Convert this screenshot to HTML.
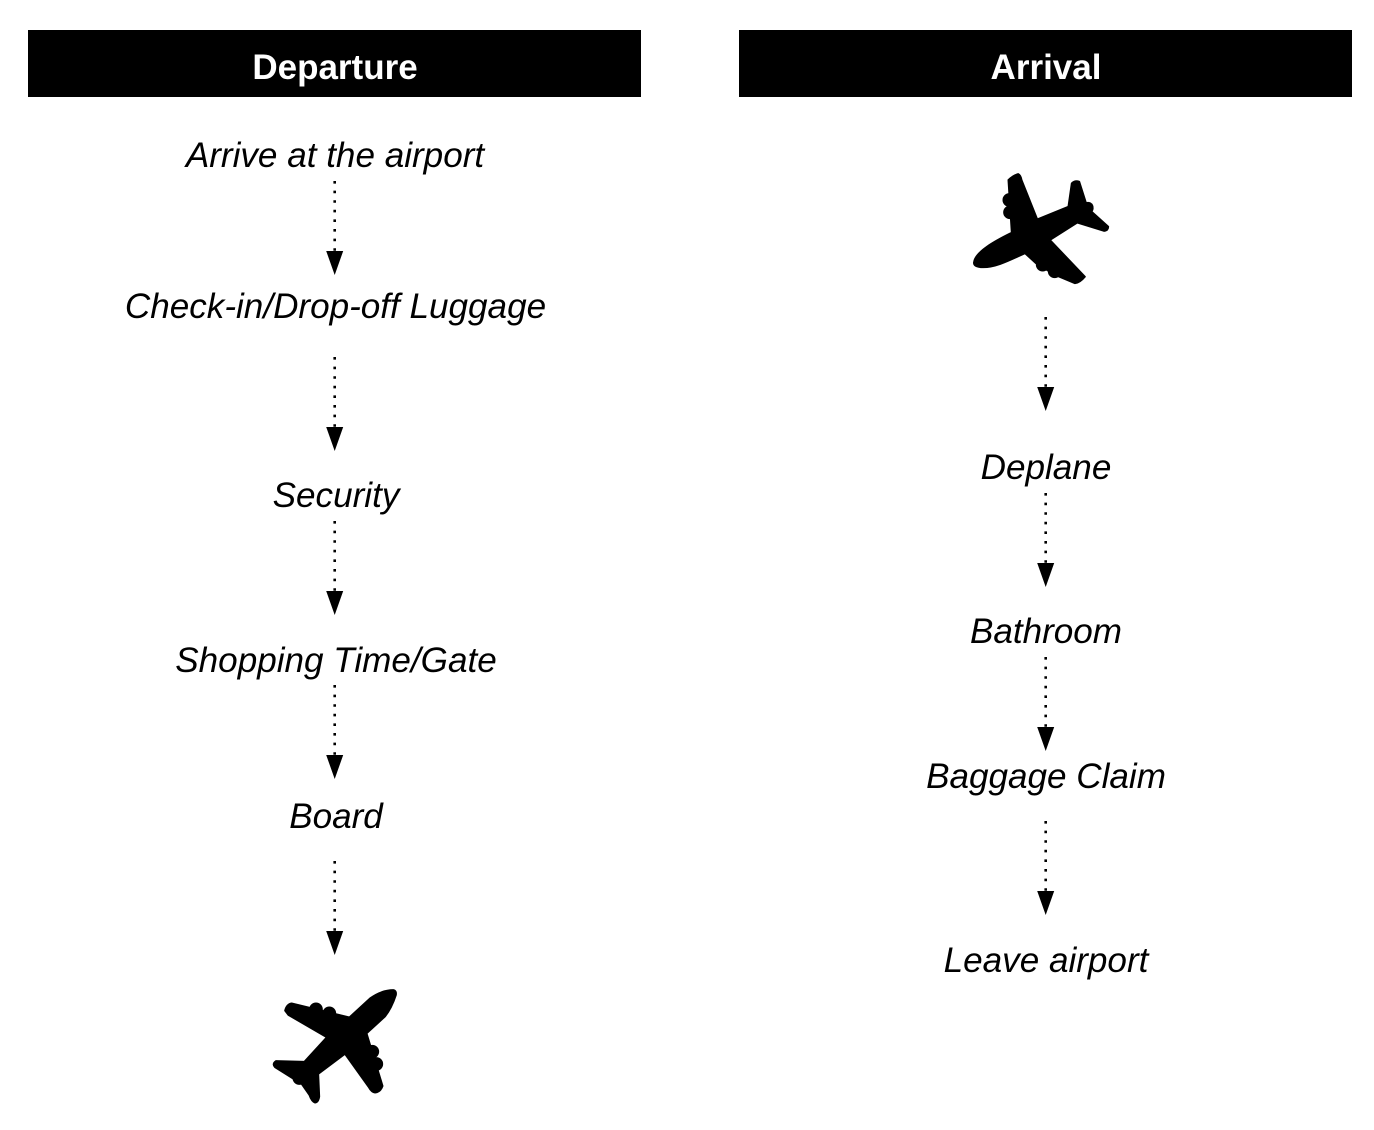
<!DOCTYPE html>
<html>
<head>
<meta charset="utf-8">
<style>
html,body{margin:0;padding:0;background:#fff;width:1374px;height:1130px;overflow:hidden}
svg{display:block}
text{font-family:"Liberation Sans",Arial,sans-serif;text-anchor:middle;fill:#000}
.h{font-weight:bold;font-size:35px;fill:#fff}
.t{font-style:italic;font-size:35.1px}
</style>
</head>
<body>
<svg width="1374" height="1130" viewBox="0 0 1374 1130" xmlns="http://www.w3.org/2000/svg">
<defs>
<g id="a">
<line x1="0" y1="0" x2="0" y2="72" stroke="#000" stroke-width="2.6" stroke-dasharray="2.6 7"/>
<path d="M-8.5 70H8.5L0 94Z" fill="#000"/>
</g>
</defs>
<rect x="28" y="30" width="613" height="67" fill="#000"/>
<rect x="739" y="30" width="613" height="67" fill="#000"/>
<text class="h" x="335" y="79">Departure</text>
<text class="h" x="1046" y="79">Arrival</text>

<text class="t" x="335" y="167">Arrive at the airport</text>
<text class="t" x="335.500" y="318">Check-in/Drop-off Luggage</text>
<text class="t" x="336" y="507">Security</text>
<text class="t" x="336" y="672">Shopping Time/Gate</text>
<text class="t" x="336" y="828">Board</text>

<text class="t" x="1046" y="479">Deplane</text>
<text class="t" x="1046" y="643">Bathroom</text>
<text class="t" x="1046" y="788">Baggage Claim</text>
<text class="t" x="1046" y="972">Leave airport</text>

<use href="#a" x="334.7" y="181"/>
<use href="#a" x="334.7" y="357"/>
<use href="#a" x="334.7" y="521"/>
<use href="#a" x="334.7" y="685"/>
<use href="#a" x="334.7" y="861"/>
<use href="#a" x="1045.7" y="317"/>
<use href="#a" x="1045.7" y="493"/>
<use href="#a" x="1045.7" y="657"/>
<use href="#a" x="1045.7" y="821"/>

<g transform="translate(960 160) scale(.3333)" fill="#000" stroke="#000" stroke-width="5" stroke-linejoin="round">
<path d="M145 60Q160 45 175 42Q182 45 185 60L232 178L325 140L335 70Q345 60 358 65L378 128L395 133Q402 145 395 155L445 200Q445 212 432 213L352 188L270 240L375 350Q360 368 345 370L285 345L228 310L195 280C150 300 110 322 70 322Q38 322 42 305C48 275 100 245 155 218Z"/>
<circle cx="148" cy="120" r="18"/>
<circle cx="150" cy="157" r="18"/>
<circle cx="248" cy="314" r="18"/>
<circle cx="284" cy="334" r="18"/>
<circle cx="384" cy="142" r="14"/>
</g>
<g transform="translate(260 980) scale(.3333)" fill="#000" stroke="#000" stroke-width="5" stroke-linejoin="round">
<path d="M75 92Q80 72 95 70L268 112L330 55Q365 30 400 30Q410 32 408 45Q395 85 375 110L320 160L368 318Q362 336 345 338Q335 338 325 320L255 222L175 282L178 350Q175 368 165 368Q155 365 148 345L125 312L45 262Q35 252 48 243L133 245L200 172L85 105Z"/>
<circle cx="168" cy="88" r="18"/>
<circle cx="208" cy="100" r="18"/>
<circle cx="337" cy="215" r="18"/>
<circle cx="349" cy="252" r="18"/>
<circle cx="118" cy="294" r="18"/>
</g>
</svg>
</body>
</html>
